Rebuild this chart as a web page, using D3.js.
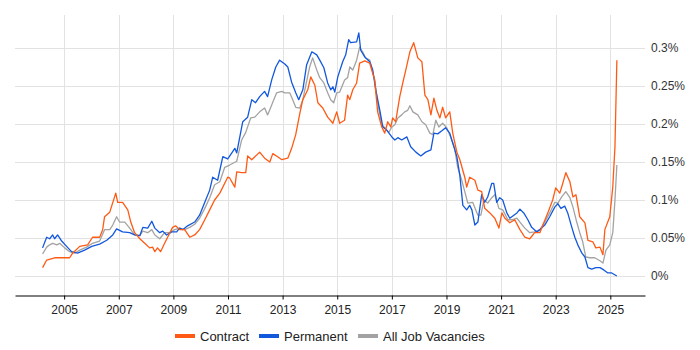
<!DOCTYPE html>
<html>
<head>
<meta charset="utf-8">
<script src="https://cdn.jsdelivr.net/npm/d3@7"></script>
<style>
  body { margin: 0; background: #fff; }
  svg { display: block; font-family: "Liberation Sans", Arial, sans-serif; }
</style>
</head>
<body>
<div id="container"></div>
<script>
// [year, percent]
const contract = [
  [2004.21, 0.011], [2004.36, 0.021], [2004.65, 0.024], [2005.02, 0.024], [2005.20, 0.024],
  [2005.31, 0.030], [2005.57, 0.039], [2005.86, 0.041], [2006.04, 0.051], [2006.30, 0.051],
  [2006.41, 0.061], [2006.48, 0.078], [2006.67, 0.084], [2006.89, 0.109], [2006.96, 0.097],
  [2007.14, 0.097], [2007.33, 0.087], [2007.44, 0.071], [2007.58, 0.057], [2007.77, 0.049],
  [2007.95, 0.043], [2008.13, 0.037], [2008.24, 0.038], [2008.32, 0.032], [2008.42, 0.037],
  [2008.53, 0.032], [2008.68, 0.043], [2008.79, 0.051], [2008.97, 0.064], [2009.08, 0.066],
  [2009.23, 0.061], [2009.41, 0.061], [2009.60, 0.051], [2009.78, 0.054], [2009.96, 0.061],
  [2010.15, 0.074], [2010.33, 0.087], [2010.51, 0.100], [2010.70, 0.109], [2010.88, 0.122],
  [2010.99, 0.130], [2011.06, 0.129], [2011.25, 0.117], [2011.32, 0.137], [2011.50, 0.136],
  [2011.65, 0.136], [2011.72, 0.158], [2011.87, 0.153], [2012.16, 0.163], [2012.34, 0.155],
  [2012.53, 0.150], [2012.64, 0.161], [2012.82, 0.157], [2012.97, 0.153], [2013.19, 0.155],
  [2013.33, 0.168], [2013.48, 0.186], [2013.63, 0.214], [2013.74, 0.232], [2013.92, 0.245],
  [2014.03, 0.262], [2014.18, 0.251], [2014.29, 0.228], [2014.47, 0.221], [2014.65, 0.209],
  [2014.84, 0.201], [2014.98, 0.216], [2015.09, 0.201], [2015.27, 0.205], [2015.38, 0.238],
  [2015.46, 0.232], [2015.57, 0.245], [2015.71, 0.254], [2015.82, 0.280], [2016.01, 0.283],
  [2016.19, 0.280], [2016.37, 0.258], [2016.48, 0.216], [2016.63, 0.196], [2016.74, 0.188],
  [2016.85, 0.203], [2016.96, 0.196], [2017.03, 0.208], [2017.14, 0.203], [2017.22, 0.221],
  [2017.29, 0.236], [2017.40, 0.254], [2017.51, 0.271], [2017.66, 0.295], [2017.80, 0.307],
  [2017.95, 0.287], [2018.10, 0.282], [2018.21, 0.238], [2018.32, 0.232], [2018.43, 0.212],
  [2018.54, 0.234], [2018.65, 0.218], [2018.76, 0.208], [2018.86, 0.222], [2018.97, 0.208],
  [2019.12, 0.216], [2019.23, 0.188], [2019.38, 0.163], [2019.49, 0.153], [2019.67, 0.130],
  [2019.74, 0.117], [2019.85, 0.130], [2020.04, 0.126], [2020.15, 0.113], [2020.29, 0.111],
  [2020.40, 0.089], [2020.59, 0.083], [2020.77, 0.076], [2020.92, 0.063], [2021.03, 0.083],
  [2021.14, 0.076], [2021.32, 0.070], [2021.50, 0.074], [2021.69, 0.061], [2021.87, 0.051],
  [2022.05, 0.049], [2022.23, 0.057], [2022.42, 0.057], [2022.53, 0.067], [2022.71, 0.083],
  [2022.89, 0.100], [2023.00, 0.116], [2023.15, 0.109], [2023.26, 0.122], [2023.37, 0.136],
  [2023.52, 0.124], [2023.63, 0.104], [2023.74, 0.107], [2023.88, 0.078], [2024.07, 0.070],
  [2024.18, 0.047], [2024.36, 0.045], [2024.47, 0.037], [2024.62, 0.038], [2024.73, 0.028],
  [2024.80, 0.061], [2024.98, 0.078], [2025.09, 0.117], [2025.17, 0.170], [2025.24, 0.284]
];

const permanent = [
  [2004.21, 0.037], [2004.36, 0.051], [2004.47, 0.049], [2004.58, 0.054], [2004.65, 0.049],
  [2004.76, 0.054], [2004.91, 0.046], [2005.09, 0.039], [2005.27, 0.032], [2005.49, 0.030],
  [2005.75, 0.034], [2006.01, 0.039], [2006.30, 0.042], [2006.56, 0.047], [2006.78, 0.054],
  [2006.92, 0.062], [2007.14, 0.058], [2007.40, 0.057], [2007.58, 0.054], [2007.77, 0.053],
  [2007.88, 0.064], [2008.06, 0.063], [2008.21, 0.072], [2008.32, 0.063], [2008.50, 0.057],
  [2008.61, 0.059], [2008.75, 0.054], [2008.94, 0.058], [2009.12, 0.058], [2009.23, 0.063],
  [2009.34, 0.061], [2009.52, 0.066], [2009.78, 0.071], [2009.96, 0.080], [2010.15, 0.097],
  [2010.33, 0.113], [2010.44, 0.130], [2010.62, 0.126], [2010.81, 0.157], [2010.99, 0.154],
  [2011.14, 0.162], [2011.25, 0.168], [2011.32, 0.162], [2011.54, 0.203], [2011.72, 0.209],
  [2011.87, 0.232], [2012.01, 0.228], [2012.16, 0.236], [2012.34, 0.243], [2012.45, 0.236],
  [2012.60, 0.258], [2012.75, 0.275], [2012.89, 0.284], [2013.08, 0.279], [2013.19, 0.275],
  [2013.33, 0.255], [2013.48, 0.241], [2013.59, 0.232], [2013.74, 0.245], [2013.88, 0.278],
  [2014.07, 0.295], [2014.25, 0.291], [2014.36, 0.284], [2014.51, 0.274], [2014.65, 0.254],
  [2014.76, 0.245], [2014.84, 0.249], [2014.91, 0.242], [2015.02, 0.262], [2015.20, 0.282],
  [2015.31, 0.291], [2015.42, 0.311], [2015.49, 0.307], [2015.71, 0.308], [2015.79, 0.320],
  [2015.86, 0.297], [2016.01, 0.288], [2016.19, 0.282], [2016.30, 0.271], [2016.41, 0.245],
  [2016.56, 0.218], [2016.67, 0.196], [2016.81, 0.192], [2017.00, 0.183], [2017.11, 0.179],
  [2017.22, 0.182], [2017.36, 0.179], [2017.55, 0.183], [2017.69, 0.170], [2017.88, 0.163],
  [2018.06, 0.158], [2018.24, 0.163], [2018.43, 0.166], [2018.54, 0.188], [2018.68, 0.187],
  [2018.83, 0.191], [2018.97, 0.195], [2019.12, 0.188], [2019.23, 0.175], [2019.38, 0.157],
  [2019.49, 0.132], [2019.60, 0.093], [2019.74, 0.087], [2019.85, 0.093], [2019.93, 0.087],
  [2020.04, 0.067], [2020.15, 0.071], [2020.29, 0.107], [2020.40, 0.097], [2020.51, 0.104],
  [2020.66, 0.122], [2020.73, 0.122], [2020.84, 0.097], [2020.95, 0.103], [2021.06, 0.100],
  [2021.21, 0.083], [2021.32, 0.076], [2021.43, 0.079], [2021.58, 0.083], [2021.69, 0.088],
  [2021.83, 0.083], [2021.98, 0.074], [2022.12, 0.064], [2022.31, 0.058], [2022.42, 0.061],
  [2022.60, 0.067], [2022.78, 0.078], [2022.97, 0.091], [2023.08, 0.095], [2023.19, 0.089],
  [2023.33, 0.092], [2023.44, 0.083], [2023.59, 0.064], [2023.70, 0.051], [2023.81, 0.041],
  [2023.96, 0.030], [2024.07, 0.025], [2024.18, 0.011], [2024.32, 0.009], [2024.47, 0.011],
  [2024.62, 0.011], [2024.76, 0.008], [2024.91, 0.004], [2025.05, 0.004], [2025.24, 0.000]
];

const allJobs = [
  [2004.21, 0.029], [2004.36, 0.038], [2004.47, 0.041], [2004.58, 0.043], [2004.73, 0.041],
  [2004.84, 0.043], [2005.02, 0.037], [2005.20, 0.032], [2005.38, 0.030], [2005.57, 0.034],
  [2005.82, 0.038], [2006.04, 0.043], [2006.30, 0.046], [2006.48, 0.061], [2006.67, 0.061],
  [2006.78, 0.067], [2006.92, 0.078], [2007.03, 0.071], [2007.22, 0.071], [2007.40, 0.063],
  [2007.58, 0.054], [2007.77, 0.053], [2007.88, 0.059], [2008.06, 0.057], [2008.21, 0.061],
  [2008.32, 0.054], [2008.50, 0.049], [2008.68, 0.057], [2008.86, 0.057], [2009.05, 0.061],
  [2009.23, 0.063], [2009.41, 0.061], [2009.60, 0.064], [2009.78, 0.068], [2009.96, 0.076],
  [2010.15, 0.089], [2010.33, 0.103], [2010.51, 0.120], [2010.70, 0.124], [2010.88, 0.143],
  [2011.06, 0.146], [2011.32, 0.151], [2011.50, 0.179], [2011.65, 0.189], [2011.83, 0.208],
  [2011.98, 0.209], [2012.16, 0.216], [2012.34, 0.221], [2012.45, 0.212], [2012.60, 0.225],
  [2012.78, 0.241], [2012.97, 0.243], [2013.08, 0.241], [2013.26, 0.241], [2013.37, 0.232],
  [2013.48, 0.222], [2013.63, 0.221], [2013.74, 0.232], [2013.85, 0.251], [2013.99, 0.275],
  [2014.10, 0.287], [2014.25, 0.271], [2014.36, 0.261], [2014.51, 0.254], [2014.65, 0.241],
  [2014.76, 0.232], [2014.87, 0.228], [2014.98, 0.241], [2015.09, 0.242], [2015.27, 0.258],
  [2015.38, 0.261], [2015.46, 0.275], [2015.57, 0.271], [2015.71, 0.284], [2015.82, 0.301],
  [2015.93, 0.295], [2016.04, 0.287], [2016.19, 0.284], [2016.37, 0.258], [2016.48, 0.228],
  [2016.63, 0.199], [2016.74, 0.195], [2016.89, 0.189], [2017.00, 0.196], [2017.11, 0.199],
  [2017.22, 0.208], [2017.36, 0.212], [2017.47, 0.216], [2017.58, 0.218], [2017.66, 0.224],
  [2017.77, 0.216], [2017.95, 0.212], [2018.10, 0.203], [2018.24, 0.199], [2018.39, 0.188],
  [2018.50, 0.186], [2018.61, 0.205], [2018.72, 0.196], [2018.86, 0.201], [2019.01, 0.195],
  [2019.16, 0.182], [2019.30, 0.168], [2019.41, 0.143], [2019.56, 0.126], [2019.67, 0.111],
  [2019.78, 0.096], [2019.96, 0.097], [2020.15, 0.080], [2020.26, 0.080], [2020.37, 0.100],
  [2020.51, 0.096], [2020.66, 0.103], [2020.77, 0.107], [2020.92, 0.089], [2021.06, 0.087],
  [2021.25, 0.074], [2021.39, 0.074], [2021.58, 0.076], [2021.69, 0.071], [2021.87, 0.063],
  [2022.05, 0.057], [2022.23, 0.058], [2022.42, 0.061], [2022.60, 0.071], [2022.78, 0.083],
  [2022.97, 0.097], [2023.08, 0.096], [2023.22, 0.104], [2023.37, 0.111], [2023.52, 0.103],
  [2023.63, 0.091], [2023.77, 0.071], [2023.88, 0.057], [2023.99, 0.045], [2024.10, 0.025],
  [2024.25, 0.024], [2024.43, 0.024], [2024.62, 0.020], [2024.73, 0.017], [2024.84, 0.034],
  [2024.98, 0.041], [2025.09, 0.057], [2025.17, 0.100], [2025.24, 0.146]
];

const seriesNames = ['Contract', 'Permanent', 'All Job Vacancies'];
const seriesColors = ['#ff5a14', '#1258dc', '#a3a3a3'];
const xTickYears = [2005, 2007, 2009, 2011, 2013, 2015, 2017, 2019, 2021, 2023, 2025];
const yTickValues = [0, 0.05, 0.1, 0.15, 0.2, 0.25, 0.3];

const WIDTH = 700;
const HEIGHT = 350;
const plotLeft = 15, plotRight = 645, plotTop = 15, plotBottom = 295;

let x = d3.scaleLinear().domain([2003.2, 2026.27]).range([plotLeft, plotRight]);
let y = d3.scaleLinear().domain([0, 0.3]).range([276, 48]);

let svg = d3.select('#container').append('svg').attr('width', WIDTH).attr('height', HEIGHT);

// grid
svg.append('g')
  .selectAll('line')
  .data(yTickValues)
  .join('line')
  .attr('x1', plotLeft).attr('x2', plotRight)
  .attr('y1', (d) => Math.round(y(d)) + 0.5).attr('y2', (d) => Math.round(y(d)) + 0.5)
  .attr('stroke', '#e2e2e2');

svg.append('g')
  .selectAll('line')
  .data(xTickYears)
  .join('line')
  .attr('x1', (d) => Math.round(x(d)) + 0.5).attr('x2', (d) => Math.round(x(d)) + 0.5)
  .attr('y1', plotTop).attr('y2', plotBottom)
  .attr('stroke', '#e2e2e2');

// x axis
let xAxis = svg.append('g')
  .attr('transform', `translate(0,${plotBottom + 0.5})`)
  .call(d3.axisBottom(x).tickValues(xTickYears).tickFormat(d3.format('d')).tickSize(4).tickSizeOuter(0));
xAxis.select('.domain').attr('stroke', '#000');
xAxis.selectAll('.tick line').attr('stroke', '#000');
xAxis.selectAll('text')
  .attr('font-size', 12)
  .attr('font-family', '"Liberation Sans", Arial, sans-serif')
  .attr('fill', '#222')
  .attr('dy', '0.95em');

// y labels on the right
let yAxis = svg.append('g')
  .attr('transform', `translate(${plotRight},0)`)
  .call(d3.axisRight(y).tickValues(yTickValues).tickFormat((d) => d3.format('~g')(+d.toFixed(2)) + '%').tickSize(0).tickPadding(6));
yAxis.select('.domain').remove();
yAxis.selectAll('text')
  .attr('font-size', 12)
  .attr('font-family', '"Liberation Sans", Arial, sans-serif')
  .attr('fill', '#333');

// lines, drawn gray first so contract sits on top
let line = d3.line().x((d) => x(d[0])).y((d) => y(d[1]));
let drawOrder = [[allJobs, 2], [permanent, 1], [contract, 0]];
svg.append('g')
  .selectAll('path')
  .data(drawOrder)
  .join('path')
  .attr('d', (d) => line(d[0]))
  .attr('fill', 'none')
  .attr('stroke', (d) => seriesColors[d[1]])
  .attr('stroke-width', 1.3)
  .attr('stroke-linejoin', 'round');

// legend
const legendX = [175, 259, 358];
let legend = svg.append('g')
  .selectAll('g')
  .data(seriesNames)
  .join('g')
  .attr('transform', (d, i) => `translate(${legendX[i]},336)`);
legend.append('rect')
  .attr('x', 0).attr('y', -2).attr('width', 20).attr('height', 4)
  .attr('fill', (d, i) => seriesColors[i]);
legend.append('text')
  .attr('x', 25).attr('y', 0).attr('dy', '0.35em')
  .attr('font-size', 13)
  .attr('fill', '#222')
  .text((d) => d);
</script>
</body>
</html>
